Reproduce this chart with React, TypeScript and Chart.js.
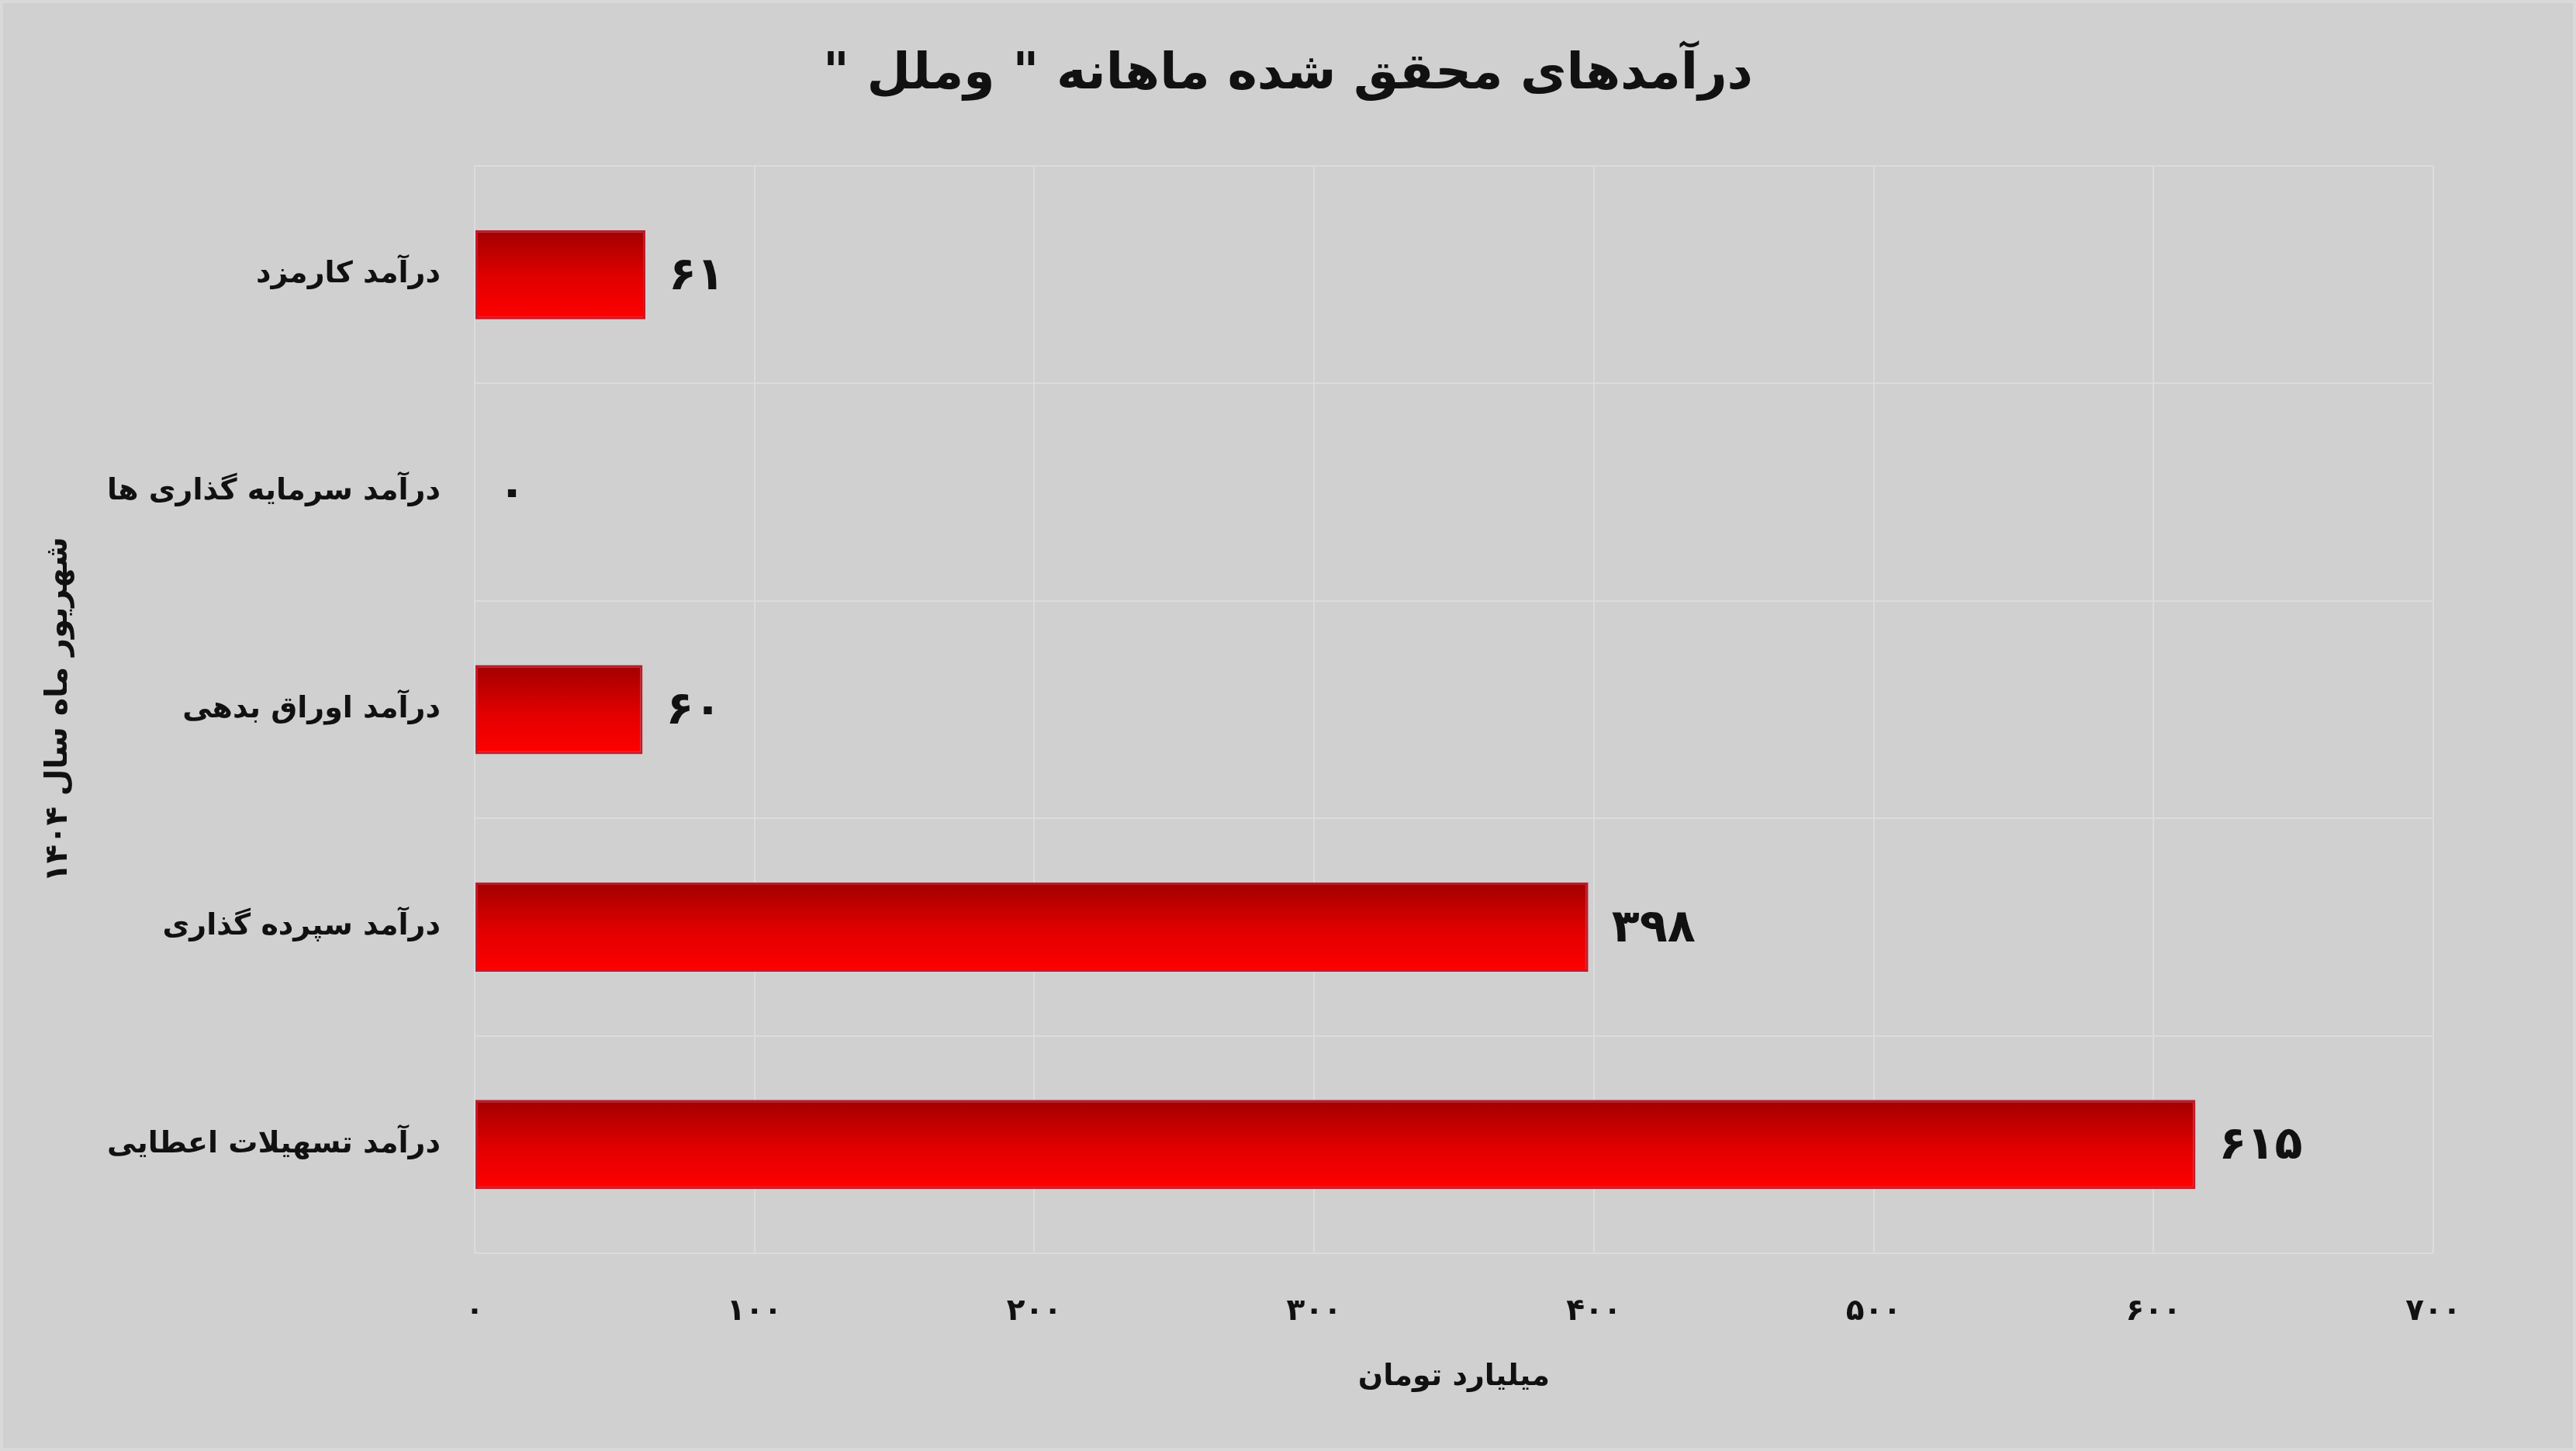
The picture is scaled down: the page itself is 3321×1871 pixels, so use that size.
import { useEffect, useRef } from 'react';
import { Chart, registerables } from 'chart.js';

Chart.register(...registerables);

const chartTitle = 'درآمدهای محقق شده ماهانه " وملل "';
const categories = [
  'درآمد کارمزد',
  'درآمد سرمایه گذاری ها',
  'درآمد اوراق بدهی',
  'درآمد سپرده گذاری',
  'درآمد تسهیلات اعطایی',
];
const values = [61, 0, 60, 398, 615];
const xTickValues = [0, 100, 200, 300, 400, 500, 600, 700];
const xAxisTitle = 'میلیارد تومان';
const yAxisTitle = 'شهریور ماه سال ۱۴۰۴';

const W = 3321;
const H = 1871;
const FAMILY = '"DejaVu Sans", sans-serif';
const TEXT = '#111111';
const GRID = '#dcdcdc';
const BG = '#d0d0d0';
const BAR_FRACTION = 0.41;

const faDigits = '۰۱۲۳۴۵۶۷۸۹';
const toFa = (n: number | string) => String(n).replace(/\d/g, (d) => faDigits[+d]);

const bgPlugin = {
  id: 'bg',
  beforeDraw(chart: any) {
    const ctx = chart.ctx;
    ctx.save();
    ctx.fillStyle = BG;
    ctx.fillRect(0, 0, chart.width, chart.height);
    ctx.strokeStyle = '#d9d9d9';
    ctx.lineWidth = 4;
    ctx.strokeRect(2, 2, chart.width - 4, chart.height - 4);
    ctx.restore();
  },
};

const valueLabelPlugin = {
  id: 'valueLabels',
  afterDatasetsDraw(chart: any) {
    const ctx = chart.ctx;
    const meta = chart.getDatasetMeta(0);
    ctx.save();
    ctx.font = `bold 59px ${FAMILY}`;
    ctx.fillStyle = TEXT;
    ctx.textAlign = 'left';
    ctx.textBaseline = 'middle';
    meta.data.forEach((el: any, i: number) => {
      ctx.fillText(toFa(values[i]), el.x + 30, el.y + 3);
    });
    ctx.restore();
  },
};

export default function App() {
  const ref = useRef<HTMLCanvasElement | null>(null);

  useEffect(() => {
    document.body.style.margin = '0';
    document.body.style.background = BG;
    const canvas = ref.current;
    if (!canvas) return;

    const barFill = (c: any) => {
      const chart = c.chart;
      const area = chart.chartArea;
      const ys = chart.scales?.y;
      if (!area || !ys) return '#e80000';
      const yc = ys.getPixelForValue(c.dataIndex);
      const band = (area.bottom - area.top) / categories.length;
      const h = band * BAR_FRACTION;
      const g = chart.ctx.createLinearGradient(0, yc - h / 2, 0, yc + h / 2);
      g.addColorStop(0, '#a10000');
      g.addColorStop(0.55, '#e30000');
      g.addColorStop(1, '#ff0000');
      return g;
    };

    const chart = new Chart(canvas, {
      type: 'bar',
      data: {
        labels: categories,
        datasets: [
          {
            data: values,
            backgroundColor: barFill,
            borderColor: '#c2182a',
            borderWidth: 3,
            borderSkipped: false,
            barPercentage: BAR_FRACTION,
            categoryPercentage: 1,
          },
        ],
      },
      options: {
        indexAxis: 'y',
        responsive: false,
        animation: false,
        devicePixelRatio: 1,
        layout: { padding: { left: 0, right: 0, top: 0, bottom: 0 } },
        plugins: {
          legend: { display: false },
          tooltip: { enabled: false },
          title: {
            display: true,
            text: chartTitle,
            color: TEXT,
            font: { family: FAMILY, size: 65, weight: 'bold' },
            padding: { top: 58, bottom: 78 },
          },
        },
        scales: {
          x: {
            type: 'linear',
            min: 0,
            max: 700,
            afterBuildTicks: (s: any) => {
              s.ticks = xTickValues.map((v) => ({ value: v }));
            },
            afterFit: (s: any) => {
              s.height = 255;
            },
            ticks: {
              callback: (v: any) => toFa(v),
              color: TEXT,
              font: { family: FAMILY, size: 39, weight: 'bold' },
              padding: 52,
              maxRotation: 0,
            },
            grid: { color: GRID, lineWidth: 2, drawTicks: false },
            border: { display: false },
            title: {
              display: true,
              text: xAxisTitle,
              color: TEXT,
              font: { family: FAMILY, size: 38, weight: 'bold' },
              padding: { top: 0, bottom: 72 },
            },
          },
          y: {
            type: 'category',
            afterFit: (s: any) => {
              s.width = 612;
            },
            ticks: {
              color: TEXT,
              font: { family: FAMILY, size: 38, weight: 'bold' },
              padding: 44,
            },
            grid: { color: GRID, lineWidth: 2, drawTicks: false, offset: true },
            border: { display: false },
            title: {
              display: true,
              text: yAxisTitle,
              color: TEXT,
              font: { family: FAMILY, size: 40, weight: 'bold' },
              padding: { top: 52, bottom: 0 },
            },
          },
          yRight: {
            type: 'category',
            axis: 'y',
            position: 'right',
            labels: categories,
            afterFit: (s: any) => {
              s.width = 184;
            },
            ticks: { display: false },
            grid: { display: false, drawTicks: false },
            border: { display: false },
          },
        },
      },
      plugins: [bgPlugin, valueLabelPlugin],
    } as any);

    return () => chart.destroy();
  }, []);

  return (
    <canvas
      ref={ref}
      width={W}
      height={H}
      dir="rtl"
      style={{ display: 'block', width: W, height: H }}
    />
  );
}
